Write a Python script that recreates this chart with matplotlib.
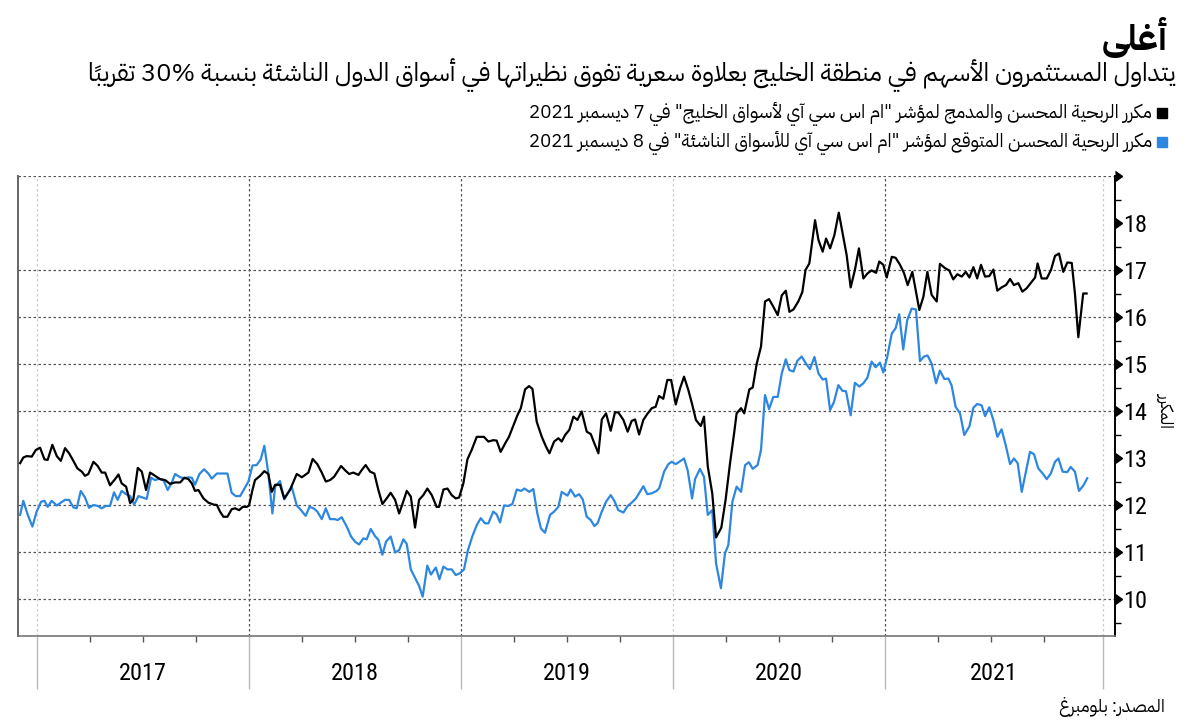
"""
Gulf vs emerging-market P/E chart (Arabic labels), rebuilt with matplotlib.

matplotlib has no Arabic shaping, so the text is shaped by hand into
presentation forms and put into visual (left-to-right) order.
"""

import numpy as np
import matplotlib
matplotlib.use("Agg")
import matplotlib.pyplot as plt
import matplotlib.transforms as mtransforms
from matplotlib import font_manager, ft2font
from matplotlib.patches import Rectangle

# ---------------------------------------------------------------- data
TITLE = "أغلى"
SUBTITLE = ("يتداول المستثمرون الأسهم في منطقة الخليج بعلاوة سعرية تفوق "
            "نظيراتها في أسواق الدول الناشئة بنسبة 30% تقريباً")
LEGEND_GCC = 'مكرر الربحية المحسن والمدمج لمؤشر "ام اس سي آي لأسواق الخليج" في 7 ديسمبر 2021'
LEGEND_EM = 'مكرر الربحية المحسن المتوقع لمؤشر "ام اس سي آي للأسواق الناشئة" في 8 ديسمبر 2021'
YLABEL = "المكرر"
SOURCE = "المصدر: بلومبرغ"

year_labels = ["2017", "2018", "2019", "2020", "2021"]
year_edges = [2017.0, 2018.0, 2019.0, 2020.0, 2021.0, 2022.03]
y_ticks = [10, 11, 12, 13, 14, 15, 16, 17, 18, 19]
y_ticklabels = ["10", "11", "12", "13", "14", "15", "16", "17", "18", ""]
grid_levels = [10, 11, 12, 14, 15, 16, 17, 19]

# MSCI GCC blended forward P/E (black), decimal years
gcc_x = [2016.920, 2016.935, 2016.951, 2016.975, 2016.994, 2017.014, 2017.035, 2017.050, 2017.072, 2017.093,
         2017.112, 2017.132, 2017.151, 2017.171, 2017.190, 2017.211, 2017.226, 2017.242, 2017.266, 2017.286,
         2017.305, 2017.321, 2017.344, 2017.368, 2017.384, 2017.399, 2017.420, 2017.439, 2017.454, 2017.475,
         2017.494, 2017.514, 2017.533, 2017.557, 2017.580, 2017.604, 2017.627, 2017.651, 2017.675, 2017.695,
         2017.714, 2017.730, 2017.745, 2017.761, 2017.785, 2017.808, 2017.832, 2017.848, 2017.863, 2017.879,
         2017.898, 2017.918, 2017.934, 2017.953, 2017.970, 2017.989,
         2018.000, 2018.016, 2018.028, 2018.052, 2018.072, 2018.091, 2018.107, 2018.123, 2018.146, 2018.166,
         2018.193, 2018.225, 2018.249, 2018.280, 2018.300, 2018.322, 2018.343, 2018.362, 2018.382, 2018.401,
         2018.434, 2018.453, 2018.472, 2018.492, 2018.516, 2018.531, 2018.550, 2018.571, 2018.591, 2018.610,
         2018.629, 2018.649, 2018.668, 2018.689, 2018.708, 2018.725, 2018.744, 2018.763, 2018.783, 2018.802,
         2018.822, 2018.841, 2018.862, 2018.885, 2018.896, 2018.917, 2018.936, 2018.956, 2018.975, 2018.991,
         2019.011, 2019.030, 2019.050, 2019.074, 2019.108, 2019.129, 2019.152, 2019.168, 2019.187, 2019.208,
         2019.226, 2019.247, 2019.266, 2019.282, 2019.302, 2019.321, 2019.337, 2019.357, 2019.381, 2019.401,
         2019.417, 2019.439, 2019.459, 2019.475, 2019.491, 2019.511, 2019.530, 2019.549, 2019.569, 2019.593,
         2019.612, 2019.629, 2019.648, 2019.664, 2019.684, 2019.706, 2019.726, 2019.742, 2019.766, 2019.786,
         2019.805, 2019.821, 2019.840, 2019.860, 2019.879, 2019.900, 2019.918, 2019.934, 2019.954, 2019.973,
         2019.991,
         2020.013, 2020.033, 2020.052, 2020.072, 2020.091, 2020.108, 2020.131, 2020.146, 2020.164, 2020.185,
         2020.203, 2020.228, 2020.248, 2020.269, 2020.288, 2020.300, 2020.321, 2020.336, 2020.360, 2020.376,
         2020.395, 2020.415, 2020.434, 2020.453, 2020.473, 2020.494, 2020.513, 2020.532, 2020.549, 2020.568,
         2020.591, 2020.610, 2020.625, 2020.643, 2020.670, 2020.686, 2020.706, 2020.722, 2020.741, 2020.761,
         2020.782, 2020.800, 2020.819, 2020.838, 2020.858, 2020.877, 2020.898, 2020.918, 2020.937, 2020.958,
         2020.973, 2020.992,
         2021.008, 2021.032, 2021.050, 2021.071, 2021.090, 2021.107, 2021.129, 2021.145, 2021.162, 2021.181,
         2021.200, 2021.220, 2021.244, 2021.259, 2021.283, 2021.303, 2021.322, 2021.341, 2021.362, 2021.381,
         2021.398, 2021.417, 2021.435, 2021.453, 2021.472, 2021.492, 2021.511, 2021.530, 2021.550, 2021.571,
         2021.590, 2021.608, 2021.629, 2021.648, 2021.668, 2021.689, 2021.708, 2021.720, 2021.739, 2021.763,
         2021.783, 2021.802, 2021.821, 2021.841, 2021.860, 2021.881, 2021.896, 2021.912, 2021.935, 2021.951]
gcc_pe = [12.89, 13.01, 13.04, 13.03, 13.17, 13.22, 12.97, 12.96, 13.28, 13.04,
          12.94, 13.21, 13.10, 12.94, 12.78, 12.71, 12.62, 12.66, 12.92, 12.83,
          12.69, 12.69, 12.42, 12.55, 12.65, 12.46, 12.39, 12.04, 12.12, 12.79,
          12.71, 12.32, 12.69, 12.62, 12.55, 12.53, 12.45, 12.48, 12.48, 12.58,
          12.55, 12.46, 12.30, 12.32, 12.14, 12.05, 12.01, 12.00, 11.86, 11.75,
          11.75, 11.91, 11.93, 11.89, 11.96, 11.96,
          11.99, 12.32, 12.53, 12.62, 12.72, 12.66, 12.28, 12.43, 12.43, 12.14,
          12.32, 12.66, 12.59, 12.69, 12.98, 12.87, 12.69, 12.50, 12.53, 12.60,
          12.83, 12.74, 12.66, 12.69, 12.64, 12.74, 12.85, 12.71, 12.67, 12.32,
          12.02, 12.14, 12.26, 12.11, 11.82, 12.04, 12.30, 12.18, 11.52, 12.11,
          12.21, 12.35, 12.21, 11.96, 11.96, 12.33, 12.35, 12.21, 12.14, 12.16,
          12.46, 12.97, 13.17, 13.45, 13.45, 13.35, 13.38, 13.37, 13.13, 13.31,
          13.45, 13.69, 13.91, 14.06, 14.46, 14.53, 14.47, 13.77, 13.45, 13.24,
          13.10, 13.35, 13.42, 13.35, 13.49, 13.60, 13.88, 13.81, 13.99, 13.56,
          13.51, 13.31, 13.10, 13.82, 13.95, 13.58, 13.97, 13.97, 13.81, 13.56,
          13.79, 13.82, 13.50, 13.81, 13.94, 14.06, 14.09, 14.32, 14.26, 14.66,
          14.66,
          14.14, 14.48, 14.73, 14.45, 14.13, 13.81, 13.68, 13.88, 12.82, 12.25,
          11.31, 11.52, 12.11, 12.89, 13.52, 13.95, 14.06, 13.95, 14.46, 14.50,
          15.01, 15.37, 16.33, 16.38, 16.22, 16.04, 16.46, 16.56, 16.11, 16.16,
          16.33, 16.53, 17.00, 17.14, 18.06, 17.64, 17.39, 17.67, 17.46, 17.74,
          18.22, 17.78, 17.32, 16.63, 17.00, 17.46, 16.82, 16.93, 16.99, 16.94,
          17.18, 17.11,
          16.84, 17.28, 17.26, 17.11, 16.93, 16.68, 16.96, 16.57, 16.15, 16.43,
          16.96, 16.47, 16.33, 17.13, 17.04, 16.99, 16.80, 16.91, 16.86, 16.96,
          16.84, 17.06, 16.82, 17.11, 16.86, 16.87, 17.01, 16.56, 16.63, 16.68,
          16.81, 16.68, 16.72, 16.54, 16.61, 16.73, 16.84, 17.14, 16.82, 16.82,
          17.00, 17.30, 17.35, 16.96, 17.16, 17.15, 16.50, 15.57, 16.50, 16.50]

# MSCI Emerging Markets forward P/E (blue)
em_x = [2016.920, 2016.935, 2016.956, 2016.978, 2016.998, 2017.019, 2017.035, 2017.050, 2017.069, 2017.093,
        2017.112, 2017.132, 2017.151, 2017.171, 2017.187, 2017.206, 2017.226, 2017.245, 2017.266, 2017.286,
        2017.305, 2017.324, 2017.344, 2017.363, 2017.380, 2017.399, 2017.420, 2017.439, 2017.458, 2017.478,
        2017.498, 2017.517, 2017.538, 2017.557, 2017.577, 2017.596, 2017.616, 2017.635, 2017.651, 2017.675,
        2017.695, 2017.714, 2017.730, 2017.745, 2017.766, 2017.788, 2017.808, 2017.824, 2017.848, 2017.871,
        2017.898, 2017.918, 2017.937, 2017.958, 2017.978, 2017.997,
        2018.016, 2018.036, 2018.055, 2018.072, 2018.091, 2018.110, 2018.123, 2018.146, 2018.166, 2018.201,
        2018.225, 2018.245, 2018.267, 2018.285, 2018.304, 2018.322, 2018.343, 2018.362, 2018.382, 2018.403,
        2018.418, 2018.437, 2018.461, 2018.481, 2018.500, 2018.519, 2018.539, 2018.555, 2018.574, 2018.594,
        2018.610, 2018.629, 2018.646, 2018.668, 2018.689, 2018.708, 2018.728, 2018.744, 2018.763, 2018.783,
        2018.802, 2018.819, 2018.841, 2018.858, 2018.881, 2018.898, 2018.917, 2018.936, 2018.956, 2018.975,
        2018.995,
        2019.014, 2019.032, 2019.053, 2019.074, 2019.093, 2019.113, 2019.129, 2019.152, 2019.168, 2019.184,
        2019.203, 2019.223, 2019.242, 2019.263, 2019.283, 2019.299, 2019.322, 2019.341, 2019.360, 2019.377,
        2019.396, 2019.420, 2019.439, 2019.459, 2019.475, 2019.491, 2019.502, 2019.517, 2019.538, 2019.557,
        2019.574, 2019.593, 2019.612, 2019.629, 2019.645, 2019.664, 2019.684, 2019.706, 2019.723, 2019.742,
        2019.766, 2019.786, 2019.805, 2019.825, 2019.844, 2019.860, 2019.879, 2019.900, 2019.923, 2019.935,
        2019.958, 2019.978, 2019.994,
        2020.013, 2020.030, 2020.052, 2020.069, 2020.090, 2020.104, 2020.127, 2020.146, 2020.164, 2020.185,
        2020.203, 2020.226, 2020.245, 2020.261, 2020.280, 2020.300, 2020.321, 2020.340, 2020.358, 2020.376,
        2020.399, 2020.415, 2020.434, 2020.453, 2020.473, 2020.494, 2020.513, 2020.532, 2020.549, 2020.568,
        2020.587, 2020.607, 2020.627, 2020.646, 2020.667, 2020.686, 2020.706, 2020.722, 2020.741, 2020.759,
        2020.780, 2020.799, 2020.816, 2020.838, 2020.858, 2020.879, 2020.898, 2020.917, 2020.937, 2020.956,
        2020.976, 2020.992,
        2021.011, 2021.032, 2021.050, 2021.067, 2021.086, 2021.105, 2021.126, 2021.146, 2021.165, 2021.184,
        2021.201, 2021.220, 2021.241, 2021.259, 2021.280, 2021.299, 2021.314, 2021.333, 2021.354, 2021.374,
        2021.398, 2021.417, 2021.435, 2021.456, 2021.472, 2021.492, 2021.511, 2021.530, 2021.550, 2021.569,
        2021.590, 2021.608, 2021.626, 2021.645, 2021.665, 2021.684, 2021.703, 2021.723, 2021.744, 2021.763,
        2021.782, 2021.802, 2021.818, 2021.838, 2021.860, 2021.876, 2021.896, 2021.915, 2021.935, 2021.954]
em_pe = [11.79, 12.09, 11.79, 11.54, 11.86, 12.07, 12.09, 11.96, 12.09, 11.99,
         12.05, 12.11, 12.11, 11.95, 11.93, 12.30, 12.16, 11.94, 12.00, 11.98,
         11.93, 11.98, 11.98, 12.27, 12.11, 12.30, 12.23, 12.19, 12.01, 12.19,
         12.16, 12.13, 12.58, 12.53, 12.56, 12.53, 12.32, 12.47, 12.66, 12.59,
         12.57, 12.59, 12.58, 12.43, 12.66, 12.76, 12.67, 12.56, 12.67, 12.67,
         12.67, 12.26, 12.19, 12.19, 12.35, 12.50,
         12.84, 12.85, 12.97, 13.26, 12.67, 11.82, 12.39, 12.51, 12.12, 12.39,
         11.99, 11.89, 11.77, 11.96, 11.93, 11.86, 11.70, 11.93, 11.70, 11.70,
         11.68, 11.74, 11.54, 11.33, 11.22, 11.16, 11.29, 11.27, 11.49, 11.34,
         11.26, 10.94, 11.22, 11.33, 10.99, 11.04, 11.27, 11.17, 10.63, 10.45,
         10.28, 10.05, 10.71, 10.52, 10.67, 10.42, 10.69, 10.63, 10.63, 10.51,
         10.55,
         10.63, 11.03, 11.33, 11.57, 11.72, 11.61, 11.61, 11.86, 11.80, 11.63,
         11.99, 11.98, 12.02, 12.33, 12.30, 12.35, 12.28, 12.34, 11.82, 11.50,
         11.41, 11.79, 11.86, 11.96, 12.28, 12.23, 12.20, 12.33, 12.18, 12.23,
         12.12, 11.75, 11.68, 11.55, 11.62, 11.86, 12.07, 12.21, 12.09, 11.89,
         11.84, 11.98, 12.05, 12.14, 12.28, 12.40, 12.23, 12.25, 12.30, 12.36,
         12.71, 12.87, 12.92,
         12.87, 12.92, 12.99, 12.74, 12.14, 12.55, 12.77, 12.60, 11.79, 11.89,
         10.76, 10.23, 10.97, 11.15, 12.07, 12.39, 12.28, 12.85, 12.91, 12.77,
         12.85, 13.17, 14.34, 14.04, 14.30, 14.30, 14.80, 15.10, 14.87, 14.84,
         15.07, 15.16, 15.01, 14.89, 15.15, 14.80, 14.67, 14.69, 14.02, 14.19,
         14.55, 14.43, 14.42, 13.91, 14.60, 14.52, 14.59, 14.71, 15.05, 14.93,
         15.03, 14.82,
         15.16, 15.65, 15.76, 16.06, 15.31, 15.94, 16.18, 16.16, 15.06, 15.16,
         15.18, 15.01, 14.59, 14.86, 14.68, 14.69, 14.55, 14.09, 13.95, 13.49,
         13.67, 14.07, 14.15, 14.12, 13.89, 14.08, 13.81, 13.45, 13.61, 13.28,
         12.87, 12.99, 12.89, 12.28, 12.71, 13.13, 13.08, 12.78, 12.67, 12.55,
         12.67, 12.92, 12.99, 12.71, 12.70, 12.81, 12.71, 12.30, 12.41, 12.57]

BLUE = "#2d87e0"

# ------------------------------------------------------ arabic shaping
# base code of the isolated presentation form; +1 final, +2 initial, +3 medial
RIGHT_JOIN = {"\u0622": 0xFE81, "\u0623": 0xFE83, "\u0624": 0xFE85, "\u0625": 0xFE87,
              "\u0627": 0xFE8D, "\u0629": 0xFE93, "\u062F": 0xFEA9, "\u0630": 0xFEAB,
              "\u0631": 0xFEAD, "\u0632": 0xFEAF, "\u0648": 0xFEED, "\u0649": 0xFEEF}
DUAL_JOIN = {"\u0626": 0xFE89, "\u0628": 0xFE8F, "\u062A": 0xFE95, "\u062B": 0xFE99,
             "\u062C": 0xFE9D, "\u062D": 0xFEA1, "\u062E": 0xFEA5, "\u0633": 0xFEB1,
             "\u0634": 0xFEB5, "\u0635": 0xFEB9, "\u0636": 0xFEBD, "\u0637": 0xFEC1,
             "\u0638": 0xFEC5, "\u0639": 0xFEC9, "\u063A": 0xFECD, "\u0641": 0xFED1,
             "\u0642": 0xFED5, "\u0643": 0xFED9, "\u0644": 0xFEDD, "\u0645": 0xFEE1,
             "\u0646": 0xFEE5, "\u0647": 0xFEE9, "\u064A": 0xFEF1}
LAM_ALEF = {"\u0622": 0xFEF5, "\u0623": 0xFEF7, "\u0625": 0xFEF9, "\u0627": 0xFEFB}
MARKS = {chr(c) for c in range(0x064B, 0x0653)}


def shape(text):
    units = []
    i = 0
    while i < len(text):
        c = text[i]
        if c in MARKS and units:
            units[-1]["marks"] += c
        elif c == "\u0644" and i + 1 < len(text) and text[i + 1] in LAM_ALEF:
            units.append({"ch": c, "base": LAM_ALEF[text[i + 1]], "kind": "R", "marks": ""})
            i += 1
        elif c in DUAL_JOIN:
            units.append({"ch": c, "base": DUAL_JOIN[c], "kind": "D", "marks": ""})
        elif c in RIGHT_JOIN:
            units.append({"ch": c, "base": RIGHT_JOIN[c], "kind": "R", "marks": ""})
        else:
            units.append({"ch": c, "base": None, "kind": "U", "marks": ""})
        i += 1

    for k, u in enumerate(units):
        if u["base"] is None:
            u["glyph"] = u["ch"]
            continue
        prev_j = k > 0 and units[k - 1]["kind"] == "D"
        next_j = (u["kind"] == "D" and k + 1 < len(units)
                  and units[k + 1]["kind"] in ("D", "R"))
        if u["kind"] == "D":
            off = [[0, 2], [1, 3]][prev_j][next_j]
        else:
            off = 1 if prev_j else 0
        u["glyph"] = chr(u["base"] + off)

    # minimal bidi: numbers stay left-to-right, everything else is reversed
    runs = []
    for u in units:
        ltr = u["ch"] in "0123456789%"
        if runs and runs[-1][0] == ltr:
            runs[-1][1].append(u)
        else:
            runs.append((ltr, [u]))
    out = []
    for ltr, us in reversed(runs):
        for u in (us if ltr else us[::-1]):
            out.append(u["glyph"] + u["marks"])
    return "".join(out)


def pick_arabic_font(strings):
    need = {ord(c) for s in strings for c in s if ord(c) >= 0xFE70}
    for name in ["Tajawal", "Almarai", "Cairo", "IBM Plex Sans Arabic", "Noto Sans Arabic"]:
        try:
            path = font_manager.findfont(font_manager.FontProperties(family=name),
                                         fallback_to_default=False)
        except ValueError:
            continue
        if need <= set(ft2font.FT2Font(path).get_charmap()):
            return name
    return "DejaVu Sans"


texts = {k: shape(v) for k, v in dict(title=TITLE, sub=SUBTITLE, gcc=LEGEND_GCC,
                                      em=LEGEND_EM, ylab=YLABEL, src=SOURCE).items()}
AR = [pick_arabic_font(texts.values()), "DejaVu Sans"]
NUM = ["Liberation Sans Narrow", "Roboto Condensed", "DejaVu Sans"]

# ---------------------------------------------------------------- figure
W, H = 1200, 724
fig = plt.figure(figsize=(12, 7.24), dpi=100)


def fx(px):
    return px / W


def fy(py):
    return 1 - py / H


ax = fig.add_axes([fx(18), fy(636), (1115 - 18) / W, (636 - 176) / H])
ax.set_xlim(2016.910, 2022.085)
ax.set_ylim(9.213, 19.0)

ax.plot(em_x, em_pe, color=BLUE, lw=1.6, zorder=3)
ax.plot(gcc_x, gcc_pe, color="black", lw=1.6, zorder=4)

for v in grid_levels:
    ax.axhline(v, color="#555555", lw=0.9, ls=(0, (2, 2)), zorder=1)
for x in [2018.0, 2019.0, 2021.0]:
    ax.axvline(x, color="#555555", lw=0.9, ls=(0, (2, 2)), zorder=1)
for x in [2017.0, 2020.0, 2022.03]:
    ax.axvline(x, color="#cccccc", lw=0.9, ls=(0, (2, 2)), zorder=1)

ax.spines["top"].set_visible(False)
ax.spines["left"].set_color("#666666")
ax.spines["left"].set_linewidth(1.4)
ax.spines["bottom"].set_color("#777777")
ax.spines["bottom"].set_linewidth(1.2)
ax.spines["right"].set_color("black")
ax.spines["right"].set_linewidth(1.4)

# right-hand value axis with caret markers at the whole numbers
ax.yaxis.tick_right()
ax.set_yticks(y_ticks)
ax.set_yticklabels(y_ticklabels)
ax.set_yticks(np.arange(9.5, 19.0, 1.0), minor=True)
ax.tick_params(axis="y", which="major", length=0, pad=6, labelsize=17.5)
ax.tick_params(axis="y", which="minor", length=4.3, width=1, color="black")
for lbl in ax.get_yticklabels():
    lbl.set_family(NUM)
yblend = mtransforms.blended_transform_factory(ax.transAxes, ax.transData)
ax.plot([1.0] * len(y_ticks), y_ticks, ls="none", marker=9, ms=7, color="black",
        transform=yblend, clip_on=False, zorder=5)

# time axis: long grey separators at year edges, short quarter ticks
ax.set_xticks(year_edges)
ax.set_xticklabels([])
ax.set_xticks([y + q for y in range(2017, 2022) for q in (0.25, 0.5, 0.75)], minor=True)
ax.tick_params(axis="x", which="major", length=38, width=1, color="#bbbbbb")
ax.tick_params(axis="x", which="minor", length=4.3, width=1, color="#555555")
xblend = mtransforms.blended_transform_factory(ax.transData, ax.transAxes)
for lbl, a, b in zip(year_labels, year_edges[:-1], year_edges[1:]):
    ax.text((a + b) / 2, -(674 - 636) / 460, lbl, transform=xblend, ha="center",
            va="center", fontsize=17.5, family=NUM)

# ---------------------------------------------------------------- texts
renderer = fig.canvas.get_renderer()


def fit(t, width_px):
    w = t.get_window_extent(renderer=renderer).width
    t.set_fontsize(t.get_fontsize() * width_px / w)


t = fig.text(fx(1168), fy(50), texts["title"], ha="right", va="baseline",
             fontsize=24, weight="bold", family=AR)
fit(t, 66)
t = fig.text(fx(1175), fy(81), texts["sub"], ha="right", va="baseline",
             fontsize=15, family=AR)
fit(t, 1093)
for key, base, colour in [("gcc", 118, "black"), ("em", 147, BLUE)]:
    t = fig.text(fx(1152), fy(base), texts[key], ha="right", va="baseline",
                 fontsize=12, family=AR)
    fit(t, 620)
    fig.patches.append(Rectangle((fx(1157), fy(base)), 10 / W, 10 / H, color=colour,
                                 transform=fig.transFigure, figure=fig))
fig.text(fx(1165), fy(410), texts["ylab"], rotation=270, ha="center", va="center",
         fontsize=12, family=AR)
t = fig.text(fx(1165), fy(712), texts["src"], ha="right", va="baseline",
             fontsize=12, family=AR)
fit(t, 105)

fig.savefig("out.png", dpi=100)
